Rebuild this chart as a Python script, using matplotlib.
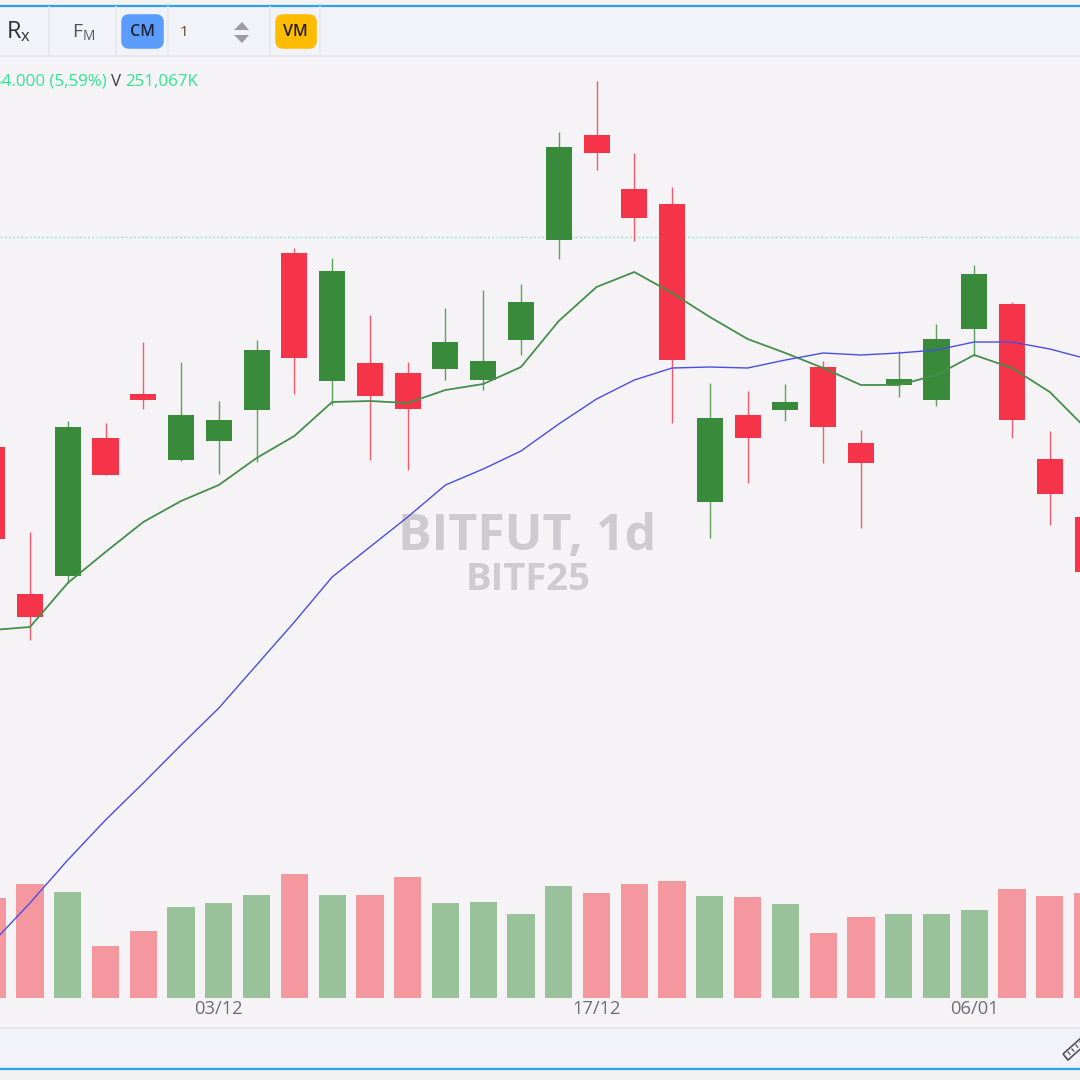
import matplotlib
matplotlib.use('Agg')
import matplotlib.pyplot as plt
from matplotlib.patches import Rectangle, FancyBboxPatch, Polygon

# candle values (price units are screen height, no price scale is visible)
candle_idx = list(range(-1, 29))
opens = [633, 486, 504, 642, 686, 620, 639, 670, 827, 699, 717, 707, 711, 700, 740, 840, 945, 891, 876, 578, 665, 670, 713, 637, 695, 680, 751, 776, 621, 563]
closes = [541, 463, 653, 605, 680, 665, 660, 730, 722, 809, 684, 671, 738, 719, 778, 933, 927, 862, 720, 662, 642, 678, 653, 617, 701, 741, 806, 660, 586, 508]
highs = [650, 548, 659, 657, 738, 718, 679, 740, 832, 822, 765, 718, 772, 790, 796, 948, 999, 927, 893, 697, 689, 696, 719, 650, 729, 756, 815, 778, 649, 575]
lows = [520, 440, 497, 605, 671, 619, 606, 618, 686, 675, 620, 610, 700, 690, 725, 821, 910, 839, 657, 542, 597, 659, 617, 552, 683, 674, 724, 642, 555, 480]

ma_fast = [450, 453, 497, 528, 558, 579, 595, 622, 644, 678, 679, 677, 690, 696, 713, 759, 793, 808, 787, 763, 741, 727, 712, 695, 695, 705, 725, 712, 688, 650]
ma_slow = [137, 177, 220, 260, 297, 335, 372, 415, 458, 503, 533, 563, 595, 611, 629, 656, 681, 700, 712, 713, 712, 720, 727, 725, 727, 730, 738, 738, 731, 721]

volumes = [100, 114, 106, 52, 67, 91, 95, 103, 124, 103, 103, 121, 95, 96, 84, 112, 105, 114, 117, 102, 101, 94, 65, 81, 84, 84, 88, 109, 102, 105]

tick_idx = [5, 15, 25]
tick_labels = ['03/12', '17/12', '06/01']
last_price = 843

GREEN = '#3a8a3c'
RED = '#f5344a'
VOL_GREEN = '#99c29b'
VOL_RED = '#f5979f'
PANEL = '#f5f3f5'
BAR = '#f1f3f8'
EDGE = '#e6e7ec'
BLUE_EDGE = '#2fa0f0'

plt.rcParams['font.family'] = ['Open Sans', 'DejaVu Sans']

fig = plt.figure(figsize=(10.8, 10.8), dpi=100, facecolor='#f2f2f2')

# toolbar and frame, in screen pixels
chrome = fig.add_axes([0, 0, 1, 1], zorder=0)
chrome.set_xlim(0, 1080)
chrome.set_ylim(1080, 0)
chrome.axis('off')
chrome.add_patch(Rectangle((0, 6), 1080, 50, color=BAR, lw=0))
chrome.add_patch(Rectangle((0, 56), 1080, 972, color=PANEL, lw=0))
chrome.add_patch(Rectangle((0, 1028), 1080, 40, color=BAR, lw=0))
chrome.plot([0, 1080], [55.5, 55.5], color=EDGE, lw=1.4)
chrome.plot([0, 1080], [1028, 1028], color=EDGE, lw=1.4)
chrome.plot([0, 1080], [5.5, 5.5], color=BLUE_EDGE, lw=1.6)
chrome.plot([0, 1080], [1069, 1069], color=BLUE_EDGE, lw=1.6)
for sx in [49, 116, 168, 270, 320]:
    chrome.plot([sx, sx], [7, 55], color=EDGE, lw=1.2)

chrome.add_patch(FancyBboxPatch((124, 17), 37, 29, boxstyle='round,pad=0,rounding_size=5', fc='#5b9cff', ec='#5b9cff', lw=4))
chrome.add_patch(FancyBboxPatch((278, 17), 36, 29, boxstyle='round,pad=0,rounding_size=5', fc='#ffbb00', ec='#ffbb00', lw=4))
chrome.text(142.5, 32, 'CM', ha='center', va='center', fontsize=11.5, fontweight='semibold', color='#1f2430')
chrome.text(295.5, 32, 'VM', ha='center', va='center', fontsize=11.5, fontweight='semibold', color='#1f2010')
chrome.text(184, 32, '1', ha='center', va='center', fontsize=11, color='#6b4a22')
chrome.add_patch(Polygon([[234, 30], [249, 30], [242, 22]], color='#9a9ca6', lw=0))
chrome.add_patch(Polygon([[234, 35], [249, 35], [242, 43]], color='#9a9ca6', lw=0))
chrome.text(6, 32, r'$\mathregular{R_x}$', ha='left', va='center', fontsize=17, fontweight='medium', color='#2f3238')
chrome.text(72, 32, r'$\mathregular{F_M}$', ha='left', va='center', fontsize=14, color='#50535c')

chrome.text(-8, 81.5, '34.000 (5,59%)', ha='left', va='center', fontsize=12.2, color='#2ee88e')
chrome.text(111, 81.5, 'V', ha='left', va='center', fontsize=12.2, color='#3a3d45')
chrome.text(125, 81.5, '251,067K', ha='left', va='center', fontsize=12.2, color='#2ee88e')

# ruler icon
chrome.add_patch(Polygon([[1063, 1054], [1081, 1038], [1086, 1044], [1068, 1060]], fc='none', ec='#50535c', lw=1.2))
for rx, ry in [(1068, 1052), (1072, 1049), (1076, 1045), (1080, 1042)]:
    chrome.plot([rx, rx + 1.8], [ry, ry + 2.2], color='#50535c', lw=0.9)

# price panel
ax = fig.add_axes([0, 52 / 1080, 1, 972 / 1080], zorder=2)
ax.patch.set_alpha(0)
ax.set_xlim(-0.794, 27.8)
ax.set_ylim(52, 1024)
ax.axis('off')

ax.text(13.17, 543, 'BITFUT, 1d', ha='center', va='center', fontsize=36, fontweight='bold', color='#cdcbcf', zorder=1)
ax.text(13.2, 500, 'BITF25', ha='center', va='center', fontsize=27.5, fontweight='bold', color='#cdcbcf', zorder=1)

ax.axhline(last_price, color='#8ff0c8', lw=1.0, ls=(0, (1.5, 1.5)), zorder=1)

for i, o, c, h, l in zip(candle_idx, opens, closes, highs, lows):
    col = GREEN if c >= o else RED
    ax.plot([i, i], [l, h], color=col, lw=1.0, alpha=0.8, zorder=3, solid_capstyle='butt')
    ax.bar(i, abs(c - o), bottom=min(o, c), width=0.69, color=col, zorder=4)

ax.plot(candle_idx, ma_fast, color='#458f4a', lw=1.3, zorder=5)
ax.plot(candle_idx, ma_slow, color='#4a4ee0', lw=1.0, zorder=5)

# volume panel shares the x scale, baseline sits 30 px above the panel bottom
vol = fig.add_axes([0, 52 / 1080, 1, 972 / 1080], zorder=1)
vol.patch.set_alpha(0)
vol.set_xlim(-0.794, 27.8)
vol.set_ylim(-30, 942)
vol.bar(candle_idx, volumes, width=0.72,
        color=[VOL_GREEN if c >= o else VOL_RED for o, c in zip(opens, closes)])
for side in vol.spines.values():
    side.set_visible(False)
vol.set_yticks([])
vol.set_xticks(tick_idx, tick_labels)
vol.tick_params(axis='x', length=0, direction='in', pad=-20, labelsize=13.2, labelcolor='#6b6e78')

fig.savefig('out.png', dpi=100, facecolor=fig.get_facecolor())
